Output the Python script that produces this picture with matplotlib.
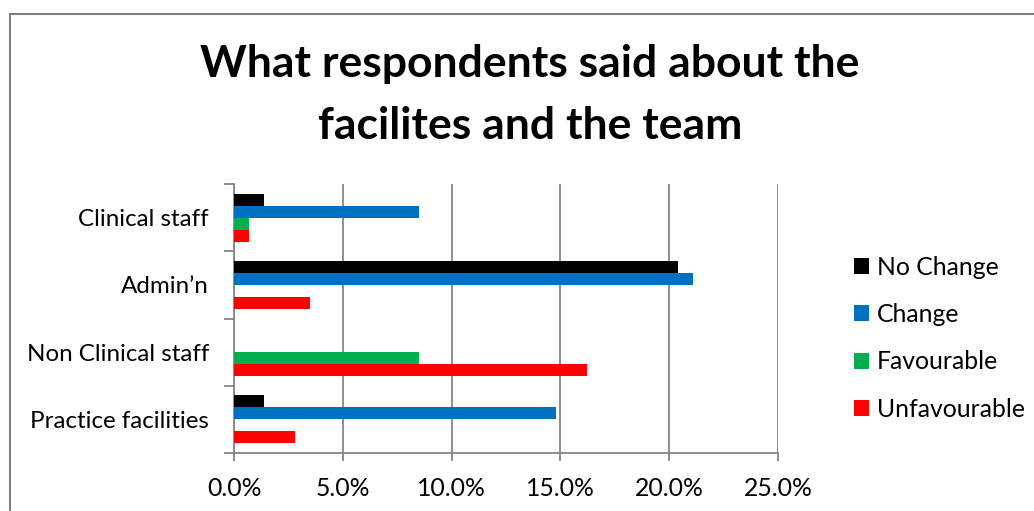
import matplotlib
matplotlib.use("Agg")
import matplotlib.pyplot as plt
import numpy as np
from matplotlib.patches import Rectangle
from matplotlib.ticker import FuncFormatter, FixedLocator

plt.rcParams['font.family'] = ['Lato', 'DejaVu Sans']

# Survey categories, bottom to top
categories = ["Practice facilities", "Non Clinical staff", "Admin\u2019n", "Clinical staff"]
series_names = ["No Change", "Change", "Favourable", "Unfavourable"]
series_colors = ["#000000", "#0070C0", "#00B050", "#FF0000"]

# Percentages of respondents per category
no_change = [1.4, 0.0, 20.4, 1.4]
change = [14.8, 0.0, 21.1, 8.5]
favourable = [0.0, 8.5, 0.0, 0.7]
unfavourable = [2.8, 16.2, 3.5, 0.7]

x_ticks = [0, 5, 10, 15, 20, 25]

fig = plt.figure(figsize=(10.34, 5.11), dpi=100)
ax = fig.add_axes([234 / 1034, 1 - 453 / 511, 544 / 1034, 269 / 511])

values = [no_change, change, favourable, unfavourable]
h = 0.178
offsets = [1.5 * h, 0.5 * h, -0.5 * h, -1.5 * h]
y = np.arange(len(categories))
for vals, name, col, off in zip(values, series_names, series_colors, offsets):
    ax.barh(y + off, vals, height=h, color=col, label=name, zorder=3)

ax.set_xlim(0, 25)
ax.set_ylim(-0.5, len(categories) - 0.5)
ax.xaxis.set_major_locator(FixedLocator(x_ticks))
ax.xaxis.set_major_formatter(FuncFormatter(lambda v, p: f"{v:.1f}%"))
ax.grid(axis='x', color='#868686', linewidth=1.3, zorder=0)

# Category boundaries carry the tick marks; labels sit at centres
ax.set_yticks(np.arange(-0.5, len(categories), 1.0))
ax.set_yticklabels([])
ax.set_yticks(y, minor=True)
ax.set_yticklabels(categories, minor=True)
ax.tick_params(axis='y', which='major', length=7, width=1.3, color='#868686', direction='out')
ax.tick_params(axis='y', which='minor', length=0, pad=18, labelsize=17.4)
ax.tick_params(axis='x', length=6, width=1.3, color='#868686', pad=11, labelsize=17.8)

for s in ['top', 'right']:
    ax.spines[s].set_visible(False)
for s in ['left', 'bottom']:
    ax.spines[s].set_color('#868686')
    ax.spines[s].set_linewidth(1.3)

fig.text(530 / 1034, 1 - 64 / 511, "What respondents said about the",
         ha='center', va='center', fontsize=32, fontweight='bold')
fig.text(530 / 1034, 1 - 126 / 511, "facilites and the team",
         ha='center', va='center', fontsize=32, fontweight='bold')

leg = fig.legend(loc='upper left', bbox_to_anchor=(844 / 1034, 1 - 246 / 511),
                 frameon=False, fontsize=17.8, handlelength=0.62, handleheight=0.62,
                 handletextpad=0.3, labelspacing=0.98, borderaxespad=0)

# Chart area border
fig.patches.append(Rectangle((9.5 / 1034, -0.1), 1.2, 1 - 13.5 / 511 + 0.1,
                             transform=fig.transFigure, fill=False,
                             edgecolor='#808080', linewidth=1.5))

fig.savefig("out.png", dpi=100)
